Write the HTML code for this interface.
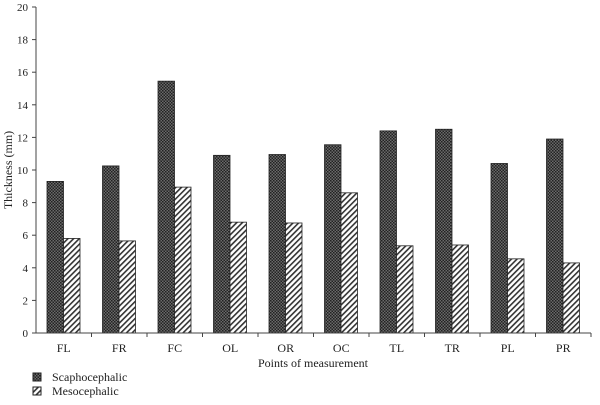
<!DOCTYPE html>
<html><head><meta charset="utf-8"><style>
body{margin:0;background:#fff}
text{font-family:"Liberation Serif",serif;fill:#222}
</style></head><body>
<svg width="600" height="400">
<defs>
<pattern id="chk" width="3" height="3" patternUnits="userSpaceOnUse">
<rect width="3" height="3" fill="#6a6a6a"/><rect width="1.5" height="1.5" fill="#222"/><rect x="1.5" y="1.5" width="1.5" height="1.5" fill="#222"/>
</pattern>
<pattern id="hat" width="4" height="4" patternUnits="userSpaceOnUse" patternTransform="rotate(45)">
<rect width="4" height="4" fill="#fff"/><rect width="1.6" height="4" fill="#333"/>
</pattern>
</defs>
<g id="plot"></g>
<g>
<rect x="33" y="373" width="8" height="8" fill="url(#chk)" stroke="#222"/>
<text x="52" y="381" font-size="12">Scaphocephalic</text>
<rect x="33" y="387" width="8" height="8" fill="url(#hat)" stroke="#222"/>
<text x="52" y="395" font-size="12">Mesocephalic</text>
</g>
</svg>
<script>
const categories=["FL","FR","FC","OL","OR","OC","TL","TR","PL","PR"];
const scaphValues=[9.3,10.25,15.45,10.9,10.95,11.55,12.4,12.5,10.4,11.9];
const mesoValues=[5.8,5.65,8.95,6.8,6.75,8.6,5.35,5.4,4.55,4.3];
const yTicks=[0,2,4,6,8,10,12,14,16,18,20];
const NS="http://www.w3.org/2000/svg";
const g=document.getElementById("plot");
const x0=36,x1=591,y0=333,y1=7,ymax=20;
const gw=(x1-x0)/categories.length;
const ys=v=>y0-(v/ymax)*(y0-y1);
function mk(t,a,txt){const e=document.createElementNS(NS,t);for(const k in a)e.setAttribute(k,a[k]);if(txt!==undefined)e.textContent=txt;g.appendChild(e);return e;}
yTicks.forEach(t=>{
const l=mk("line",{x1:x0-4,x2:x0,y1:ys(t),y2:ys(t),stroke:"#444"});


const tx=mk("text",{x:x0-8,y:ys(t)+4,"text-anchor":"end","font-size":"11"},t);


});
categories.forEach((c,i)=>{
const gx=x0+i*gw;
const b1=mk("rect",{x:gx+11,y:ys(scaphValues[i]),width:16.5,height:y0-ys(scaphValues[i]),fill:"url(#chk)",stroke:"#222","stroke-width":"0.8"});


const b2=mk("rect",{x:gx+27.5,y:ys(mesoValues[i]),width:16.5,height:y0-ys(mesoValues[i]),fill:"url(#hat)",stroke:"#222","stroke-width":"0.8"});


const tk=mk("line",{x1:gx+gw,x2:gx+gw,y1:y0,y2:y0+4,stroke:"#444"});


const lb=mk("text",{x:gx+gw/2,y:352,"text-anchor":"middle","font-size":"12"},c);


});
const ya=mk("line",{x1:x0,x2:x0,y1:y1,y2:y0,stroke:"#444"});


const xa=mk("line",{x1:x0,x2:x1,y1:y0,y2:y0,stroke:"#444"});


const yt=mk("text",{x:0,y:0,transform:"translate(12,170) rotate(-90)","text-anchor":"middle","font-size":"12"},"Thickness (mm)");


const xt=mk("text",{x:313,y:367,"text-anchor":"middle","font-size":"12"},"Points of measurement");


</script>
</body></html>
